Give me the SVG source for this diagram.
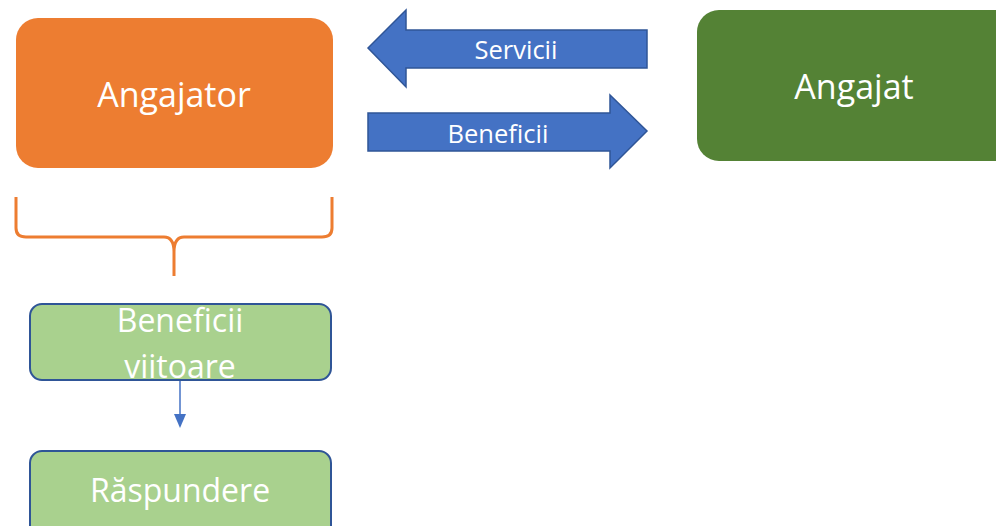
<svg xmlns="http://www.w3.org/2000/svg" width="996" height="526" viewBox="0 0 996 526">
<style>
.t{font-family:"Open Sans","Liberation Sans",sans-serif;fill:#fff;text-anchor:middle}
.big{font-size:34px}
.mid{font-size:32px}
.sm{font-size:25.5px}
.blue{fill:#4472C4;stroke:#2F5597;stroke-width:1.5}
.lg{fill:#A9D18E;stroke:#2F5597;stroke-width:2}
</style>
<g id="angajator">
<rect x="16" y="18" width="317" height="150" rx="22" fill="#ED7D31"/>
<text class="t big" x="174" y="107">Angajator</text>
</g>
<g id="angajat">
<rect x="697" y="10" width="320" height="151" rx="22" fill="#548235"/>
<text class="t big" x="854" y="99">Angajat</text>
</g>
<g id="servicii">
<path class="blue" d="M368,48 L406,10 L406,30 L647,30 L647,68 L406,68 L406,87 Z"/>
<text class="t sm" x="516" y="59">Servicii</text>
</g>
<g id="beneficii">
<path class="blue" d="M368,113 L610,113 L610,95 L647,131 L610,168 L610,151 L368,151 Z"/>
<text class="t sm" x="498" y="143">Beneficii</text>
</g>
<g id="bracket">
<path d="M16,197 V228 Q16,237 26,237 H164 Q174,237 174,252 V276 M332,197 V228 Q332,237 322,237 H184 Q174,237 174,252" fill="none" stroke="#ED7D31" stroke-width="3"/>
</g>
<g id="beneficii-viitoare">
<rect class="lg" x="30" y="304" width="301" height="76" rx="12"/>
<text class="t mid" x="180" y="332">Beneficii</text>
<text class="t mid" x="180" y="378">viitoare</text>
</g>
<g id="raspundere">
<rect class="lg" x="30" y="451" width="301" height="90" rx="12"/>
<text class="t mid" x="180" y="502">Răspundere</text>
</g>
<g id="connectors">
<line x1="180" y1="381" x2="180" y2="415" stroke="#4472C4" stroke-width="1.5"/>
<path d="M174,414 L186,414 L180,428 Z" fill="#4472C4"/>
</g>
</svg>
